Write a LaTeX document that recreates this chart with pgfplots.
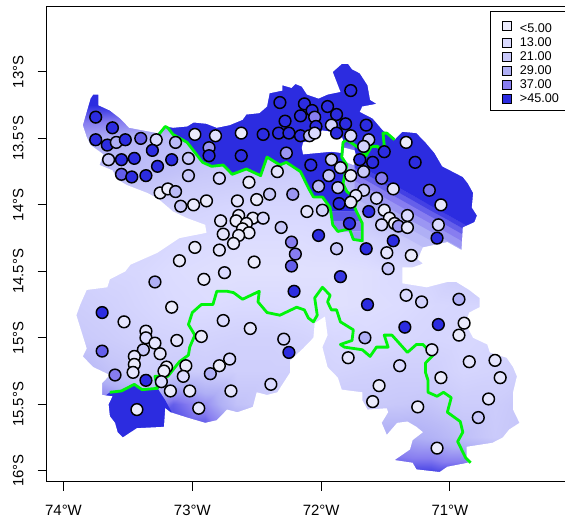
\documentclass[border=0pt]{standalone}
\usepackage{pgfplots}
\pgfplotsset{compat=1.18}
\usepackage{fontspec}
\setmainfont{Liberation Sans}
\definecolor{darkb}{RGB}{44,44,224}
\definecolor{bandA}{RGB}{90,85,232}
\definecolor{bandB}{RGB}{135,125,240}
\definecolor{bandC}{RGB}{155,150,243}
\definecolor{cA}{RGB}{235,235,252}
\definecolor{cB}{RGB}{218,218,255}
\definecolor{cC}{RGB}{200,200,250}
\definecolor{cD}{RGB}{175,175,245}
\definecolor{cE}{RGB}{135,125,240}
\definecolor{sA}{RGB}{67,64,228}
\definecolor{sB}{RGB}{101,95,234}
\definecolor{sC}{RGB}{135,125,240}
\definecolor{sD}{RGB}{155,150,243}
\definecolor{sE}{RGB}{175,175,245}
\definecolor{sF}{RGB}{188,188,248}
\definecolor{greenl}{RGB}{0,245,10}
\begin{document}
\begin{tikzpicture}
\path[use as bounding box] (-35.25pt,-28.875pt) rectangle (388.5pt,361.125pt);
\begin{axis}[
 at={(0pt,0pt)},anchor=south west,
 scale only axis,width=389.25pt,height=355.9pt,
 xmin=-74.128,xmax=-70.099,ymin=-16.081,ymax=-12.511,
 axis on top,
 axis line style={black,line width=0.75pt},
 tick style={black,line width=0.75pt},
 tick align=outside,major tick length=7pt,
 xtick pos=bottom,ytick pos=left,
 xtick={-74,-73,-72,-71},
 xticklabels={74°W,73°W,72°W,71°W},
 ytick={-16,-15.5,-15,-14.5,-14,-13.5,-13},
 yticklabels={16°S,15.5°S,15°S,14.5°S,14°S,13.5°S,13°S},
 tick label style={font=\fontsize{11.2}{13}\selectfont,black},
 xticklabel style={yshift=-7pt},
 yticklabel style={rotate=90,anchor=south,yshift=7pt},
 colormap={stn}{rgb255=(235,235,252); rgb255=(218,218,255); rgb255=(200,200,250); rgb255=(175,175,245); rgb255=(135,125,240); rgb255=(44,44,224)},
 point meta min=5,point meta max=45,
 legend cell align=left,
 legend image code/.code={\draw[#1] plot coordinates {(0.27cm,0cm)}; \path (0cm,0cm) (0.53cm,0cm);},
 legend style={at={(1.004,0.9915)},anchor=north east,draw=black,line width=0.6pt,
   font=\fontsize{9.5}{10}\selectfont,row sep=-1.6pt,inner xsep=4.5pt,inner ysep=2.5pt},
]
% interpolated surface, read by eye on a coarse grid
\addplot[surf,shader=interp,forget plot,mesh/rows=14,mesh/cols=15,point meta=explicit] table[x index=0,y index=1,meta index=2,row sep=\\]{
-73.95 -12.75 45\\-73.65 -12.75 45\\-73.4 -12.75 45\\-73.15 -12.75 45\\-72.9 -12.75 45\\-72.65 -12.75 45\\-72.4 -12.75 45\\-72.15 -12.75 45\\-71.9 -12.75 45\\-71.65 -12.75 45\\-71.4 -12.75 45\\-71.15 -12.75 45\\-70.9 -12.75 45\\-70.65 -12.75 45\\-70.4 -12.75 45\\
-73.95 -13 45\\-73.65 -13 45\\-73.4 -13 45\\-73.15 -13 45\\-72.9 -13 45\\-72.65 -13 45\\-72.4 -13 45\\-72.15 -13 45\\-71.9 -13 45\\-71.65 -13 45\\-71.4 -13 45\\-71.15 -13 45\\-70.9 -13 45\\-70.65 -13 45\\-70.4 -13 45\\
-73.95 -13.25 45\\-73.65 -13.25 45\\-73.4 -13.25 45\\-73.15 -13.25 45\\-72.9 -13.25 45\\-72.65 -13.25 45\\-72.4 -13.25 45\\-72.15 -13.25 45\\-71.9 -13.25 45\\-71.65 -13.25 45\\-71.4 -13.25 45\\-71.15 -13.25 45\\-70.9 -13.25 45\\-70.65 -13.25 45\\-70.4 -13.25 45\\
-73.95 -13.5 30\\-73.65 -13.5 29\\-73.4 -13.5 27\\-73.15 -13.5 25\\-72.9 -13.5 24\\-72.65 -13.5 24\\-72.4 -13.5 24\\-72.15 -13.5 24\\-71.9 -13.5 45\\-71.65 -13.5 45\\-71.4 -13.5 45\\-71.15 -13.5 45\\-70.9 -13.5 45\\-70.65 -13.5 45\\-70.4 -13.5 45\\
-73.95 -13.75 27\\-73.65 -13.75 24\\-73.4 -13.75 24\\-73.15 -13.75 23\\-72.9 -13.75 21\\-72.65 -13.75 20\\-72.4 -13.75 20\\-72.15 -13.75 19\\-71.9 -13.75 22\\-71.65 -13.75 35\\-71.4 -13.75 45\\-71.15 -13.75 45\\-70.9 -13.75 45\\-70.65 -13.75 45\\-70.4 -13.75 45\\
-73.95 -14 22\\-73.65 -14 20\\-73.4 -14 19\\-73.15 -14 17\\-72.9 -14 16\\-72.65 -14 15\\-72.4 -14 15\\-72.15 -14 15\\-71.9 -14 16\\-71.65 -14 23\\-71.4 -14 31\\-71.15 -14 45\\-70.9 -14 45\\-70.65 -14 45\\-70.4 -14 45\\
-73.95 -14.25 19\\-73.65 -14.25 17\\-73.4 -14.25 16\\-73.15 -14.25 14\\-72.9 -14.25 13\\-72.65 -14.25 12\\-72.4 -14.25 12\\-72.15 -14.25 12\\-71.9 -14.25 13\\-71.65 -14.25 16\\-71.4 -14.25 20\\-71.15 -14.25 24\\-70.9 -14.25 37\\-70.65 -14.25 45\\-70.4 -14.25 45\\
-73.95 -14.5 18\\-73.65 -14.5 15\\-73.4 -14.5 14\\-73.15 -14.5 12\\-72.9 -14.5 11\\-72.65 -14.5 10\\-72.4 -14.5 10\\-72.15 -14.5 10\\-71.9 -14.5 10\\-71.65 -14.5 11\\-71.4 -14.5 13\\-71.15 -14.5 16\\-70.9 -14.5 20\\-70.65 -14.5 24\\-70.4 -14.5 28\\
-73.95 -14.75 19\\-73.65 -14.75 17\\-73.4 -14.75 15\\-73.15 -14.75 13\\-72.9 -14.75 12\\-72.65 -14.75 13\\-72.4 -14.75 13\\-72.15 -14.75 12\\-71.9 -14.75 10\\-71.65 -14.75 11\\-71.4 -14.75 12\\-71.15 -14.75 14\\-70.9 -14.75 15\\-70.65 -14.75 16\\-70.4 -14.75 18\\
-73.95 -15 21\\-73.65 -15 19\\-73.4 -15 17\\-73.15 -15 16\\-72.9 -15 16\\-72.65 -15 17\\-72.4 -15 17\\-72.15 -15 16\\-71.9 -15 14\\-71.65 -15 13\\-71.4 -15 14\\-71.15 -15 15\\-70.9 -15 14\\-70.65 -15 15\\-70.4 -15 17\\
-73.95 -15.25 28\\-73.65 -15.25 23\\-73.4 -15.25 18\\-73.15 -15.25 20\\-72.9 -15.25 19\\-72.65 -15.25 18\\-72.4 -15.25 18\\-72.15 -15.25 18\\-71.9 -15.25 16\\-71.65 -15.25 17\\-71.4 -15.25 18\\-71.15 -15.25 18\\-70.9 -15.25 15\\-70.65 -15.25 16\\-70.4 -15.25 18\\
-73.95 -15.5 45\\-73.65 -15.5 38\\-73.4 -15.5 30\\-73.15 -15.5 40\\-72.9 -15.5 34\\-72.65 -15.5 23\\-72.4 -15.5 20\\-72.15 -15.5 20\\-71.9 -15.5 20\\-71.65 -15.5 20\\-71.4 -15.5 21\\-71.15 -15.5 22\\-70.9 -15.5 19\\-70.65 -15.5 19\\-70.4 -15.5 22\\
-73.95 -15.75 45\\-73.65 -15.75 45\\-73.4 -15.75 45\\-73.15 -15.75 45\\-72.9 -15.75 45\\-72.65 -15.75 38\\-72.4 -15.75 25\\-72.15 -15.75 22\\-71.9 -15.75 22\\-71.65 -15.75 30\\-71.4 -15.75 30\\-71.15 -15.75 28\\-70.9 -15.75 24\\-70.65 -15.75 20\\-70.4 -15.75 22\\
-73.95 -16.05 45\\-73.65 -16.05 45\\-73.4 -16.05 45\\-73.15 -16.05 45\\-72.9 -16.05 45\\-72.65 -16.05 45\\-72.4 -16.05 45\\-72.15 -16.05 45\\-71.9 -16.05 45\\-71.65 -16.05 45\\-71.4 -16.05 45\\-71.15 -16.05 45\\-70.9 -16.05 45\\-70.65 -16.05 45\\-70.4 -16.05 45\\
};
% north-eastern gradient bands, widest first
\addplot[fill=sF,draw=none,forget plot,mark=none] coordinates {(-71.74,-13.948)(-71.74,-14.03)(-70.62,-14.637)(-70.62,-14.554)};
\addplot[fill=sE,draw=none,forget plot,mark=none] coordinates {(-71.74,-13.88)(-71.74,-13.948)(-70.62,-14.554)(-70.62,-14.487)};
\addplot[fill=sD,draw=none,forget plot,mark=none] coordinates {(-71.74,-13.82)(-71.74,-13.88)(-70.62,-14.487)(-70.62,-14.427)};
\addplot[fill=sC,draw=none,forget plot,mark=none] coordinates {(-71.74,-13.767)(-71.74,-13.82)(-70.62,-14.427)(-70.62,-14.374)};
\addplot[fill=sB,draw=none,forget plot,mark=none] coordinates {(-71.74,-13.722)(-71.74,-13.767)(-70.62,-14.374)(-70.62,-14.329)};
\addplot[fill=sA,draw=none,forget plot,mark=none] coordinates {(-71.74,-13.685)(-71.74,-13.722)(-70.62,-14.329)(-70.62,-14.291)};
\addplot[fill=darkb,draw=none,forget plot,mark=none] coordinates {(-71.74,-13.3)(-71.74,-13.685)(-70.62,-14.291)(-70.4,-14.4)(-70.4,-13.3)};
% saturated area north of the boundary
\addplot[fill=darkb,draw=none,forget plot,mark=none] coordinates {
(-73.26,-13.47)(-73.21,-13.41)(-73.19,-13.42)(-73.15,-13.47)(-73.04,-13.53)(-72.92,-13.68)(-72.85,-13.71)(-72.76,-13.70)(-72.69,-13.77)(-72.58,-13.73)(-72.47,-13.78)(-72.42,-13.64)(-72.32,-13.70)(-72.27,-13.68)(-72.16,-13.75)(-72.10,-13.87)(-72.06,-13.94)(-71.99,-13.94)(-71.93,-14.02)(-71.93,-14.05)(-71.72,-14.05)(-71.74,-14.02)(-71.72,-13.96)(-71.80,-13.90)(-71.83,-13.84)(-71.80,-13.70)(-71.84,-13.64)(-71.83,-13.53)(-71.80,-13.51)(-71.43,-13.30)(-71.60,-12.85)(-73.26,-12.85)};
\addplot[fill=bandA,draw=none,forget plot,mark=none] coordinates {(-71.93,-14.05)(-71.72,-14.05)(-71.69,-14.12)(-71.91,-14.12)};
\addplot[fill=bandB,draw=none,forget plot,mark=none] coordinates {(-71.91,-14.12)(-71.69,-14.12)(-71.68,-14.14)(-71.68,-14.20)(-71.87,-14.20)(-71.91,-14.15)};
\addplot[fill=bandC,draw=none,forget plot,mark=none] coordinates {(-71.87,-14.20)(-71.78,-14.18)(-71.75,-14.26)(-71.68,-14.27)(-71.68,-14.20)};
% saturated area south-west
\addplot[fill=darkb,draw=none,forget plot,mark=none] coordinates {
(-73.64,-15.41)(-73.55,-15.40)(-73.45,-15.35)(-73.39,-15.39)(-73.27,-15.38)(-73.21,-15.47)(-73.16,-15.56)(-73.21,-15.77)(-73.72,-15.77)(-73.72,-15.47)};
% everything outside the region is white
\addplot[fill=white,draw=none,even odd rule,forget plot,mark=none] coordinates {
(-74.2,-12.4)(-70,-12.4)(-70,-16.2)(-74.2,-16.2)(-74.2,-13.17)
(-73.77,-13.17)(-73.73,-13.17)(-73.73,-13.25)(-73.64,-13.29)(-73.56,-13.35)(-73.49,-13.42)(-73.38,-13.44)(-73.27,-13.46)(-73.20,-13.41)(-73.15,-13.42)(-73.04,-13.41)(-72.99,-13.38)(-72.89,-13.39)(-72.81,-13.42)(-72.71,-13.40)(-72.61,-13.36)(-72.58,-13.32)(-72.48,-13.31)(-72.42,-13.26)(-72.40,-13.16)(-72.30,-13.14)(-72.30,-13.10)(-72.23,-13.12)(-72.20,-13.09)(-72.15,-13.11)(-72.11,-13.17)(-72.02,-13.20)(-71.95,-13.17)(-71.85,-13.15)(-71.89,-13.05)(-71.91,-13.00)(-71.84,-12.94)(-71.79,-12.94)(-71.76,-12.98)(-71.70,-13.01)(-71.64,-13.10)(-71.62,-13.21)(-71.57,-13.24)(-71.68,-13.26)(-71.70,-13.30)(-71.60,-13.35)(-71.52,-13.44)(-71.43,-13.51)(-71.37,-13.45)(-71.26,-13.46)(-71.19,-13.53)(-71.12,-13.61)(-71.06,-13.71)(-70.96,-13.76)(-70.90,-13.79)(-70.86,-13.84)(-70.82,-13.91)(-70.83,-14.02)(-70.79,-14.08)(-70.81,-14.13)(-70.90,-14.17)(-70.91,-14.34)(-71.02,-14.28)(-71.21,-14.32)(-71.25,-14.41)(-71.21,-14.44)(-71.23,-14.45)(-71.29,-14.47)(-71.37,-14.47)(-71.37,-14.59)(-71.18,-14.62)(-71.02,-14.58)(-70.95,-14.58)(-70.85,-14.64)(-70.77,-14.70)(-70.77,-14.77)(-70.85,-14.81)(-70.88,-14.89)(-70.82,-15.00)(-70.71,-15.05)(-70.69,-15.11)(-70.56,-15.15)(-70.51,-15.22)(-70.48,-15.29)(-70.51,-15.41)(-70.51,-15.54)(-70.46,-15.64)(-70.54,-15.69)(-70.59,-15.75)(-70.67,-15.79)(-70.87,-15.82)(-70.87,-15.90)(-70.86,-15.94)(-71.02,-15.97)(-71.08,-16.01)(-71.26,-15.99)(-71.29,-15.94)(-71.43,-15.92)(-71.31,-15.84)(-71.29,-15.77)(-71.21,-15.71)(-71.26,-15.67)(-71.33,-15.63)(-71.41,-15.64)(-71.49,-15.73)(-71.53,-15.64)(-71.48,-15.56)(-71.49,-15.53)(-71.64,-15.54)(-71.68,-15.47)(-71.68,-15.41)(-71.84,-15.39)(-71.87,-15.30)(-71.95,-15.22)(-71.99,-15.07)(-71.95,-14.98)(-71.97,-14.84)(-72.05,-14.89)(-72.06,-15.00)(-72.14,-15.08)(-72.24,-15.17)(-72.24,-15.26)(-72.34,-15.41)(-72.42,-15.43)(-72.50,-15.41)(-72.53,-15.52)(-72.65,-15.56)(-72.73,-15.54)(-72.81,-15.62)(-72.90,-15.64)(-73.04,-15.60)(-73.17,-15.56)(-73.21,-15.53)(-73.22,-15.67)(-73.43,-15.68)(-73.54,-15.75)(-73.58,-15.71)(-73.60,-15.64)(-73.64,-15.59)(-73.65,-15.50)(-73.62,-15.44)(-73.70,-15.43)(-73.70,-15.34)(-73.64,-15.28)(-73.77,-15.22)(-73.85,-15.14)(-73.82,-15.08)(-73.90,-14.83)(-73.87,-14.75)(-73.82,-14.64)(-73.66,-14.62)(-73.64,-14.56)(-73.52,-14.50)(-73.48,-14.45)(-73.27,-14.36)(-73.10,-14.25)(-72.89,-14.21)(-72.90,-14.15)(-73.04,-14.10)(-73.15,-14.05)(-73.27,-13.95)(-73.35,-13.91)(-73.51,-13.85)(-73.58,-13.81)(-73.62,-13.74)(-73.72,-13.70)(-73.69,-13.62)(-73.79,-13.55)(-73.82,-13.49)(-73.85,-13.40)(-73.82,-13.30)(-73.79,-13.20)
(-73.77,-13.17)(-74.2,-13.17)};
\addplot[fill=white,draw=none,forget plot,mark=none] coordinates {(-72.15,-13.57)(-72.14,-13.53)(-72.06,-13.51)(-71.99,-13.44)(-71.85,-13.46)(-71.83,-13.51)(-71.84,-13.61)(-71.92,-13.60)(-72.03,-13.61)(-72.14,-13.62)};
\addplot[fill=white,draw=none,forget plot,mark=none] coordinates {(-71.82,-13.57)(-71.74,-13.59)(-71.72,-13.66)(-71.75,-13.70)(-71.80,-13.68)(-71.83,-13.64)};
% boundary
\addplot[greenl,line width=2.1pt,forget plot,mark=none,line join=round] coordinates {
(-73.64,-15.41)(-73.55,-15.40)(-73.45,-15.35)(-73.39,-15.39)(-73.27,-15.38)(-73.29,-15.29)(-73.19,-15.29)(-73.10,-15.18)(-73.03,-15.13)(-73.02,-15.07)(-72.98,-14.98)(-73.03,-14.90)(-73.00,-14.81)(-72.93,-14.75)(-72.84,-14.75)(-72.81,-14.65)(-72.73,-14.65)(-72.68,-14.66)(-72.61,-14.71)(-72.48,-14.65)(-72.49,-14.73)(-72.42,-14.81)(-72.32,-14.83)(-72.19,-14.77)(-72.13,-14.79)(-72.10,-14.85)(-72.06,-14.88)(-72.03,-14.83)(-72.05,-14.70)(-71.99,-14.62)(-71.93,-14.68)(-71.95,-14.73)(-71.92,-14.79)(-71.88,-14.79)(-71.85,-14.88)(-71.75,-14.94)(-71.76,-15.02)(-71.85,-15.05)(-71.82,-15.07)(-71.68,-15.09)(-71.62,-15.14)(-71.57,-15.07)(-71.48,-15.07)(-71.51,-14.98)(-71.45,-14.98)(-71.33,-15.11)(-71.26,-15.05)(-71.21,-15.05)(-71.13,-15.13)(-71.19,-15.19)(-71.19,-15.26)(-71.17,-15.32)(-71.17,-15.41)(-71.10,-15.44)(-71.05,-15.41)(-70.99,-15.45)(-71.02,-15.56)(-70.92,-15.63)(-70.90,-15.71)(-70.94,-15.78)(-70.88,-15.90)(-70.84,-15.94)};
\addplot[greenl,line width=2.1pt,forget plot,mark=none,line join=round] coordinates {
(-73.26,-13.47)(-73.21,-13.41)(-73.19,-13.42)(-73.15,-13.47)(-73.04,-13.53)(-72.92,-13.68)(-72.85,-13.71)(-72.76,-13.70)(-72.69,-13.77)(-72.58,-13.73)(-72.47,-13.78)(-72.42,-13.64)(-72.32,-13.70)(-72.27,-13.68)(-72.16,-13.75)(-72.10,-13.87)(-72.06,-13.94)(-71.99,-13.94)(-71.93,-14.02)(-71.91,-14.15)(-71.87,-14.20)(-71.78,-14.18)(-71.75,-14.26)(-71.68,-14.27)(-71.68,-14.14)(-71.74,-14.02)(-71.72,-13.96)(-71.80,-13.90)(-71.83,-13.84)(-71.80,-13.70)(-71.84,-13.64)(-71.83,-13.53)(-71.80,-13.51)(-71.71,-13.57)(-71.65,-13.63)(-71.61,-13.56)(-71.56,-13.56)(-71.54,-13.59)(-71.51,-13.55)(-71.52,-13.46)(-71.49,-13.46)(-71.43,-13.51)};
% stations
\addplot[scatter,only marks,forget plot,mark=*,mark size=4.4pt,point meta=explicit,
  mark options={line width=1.1pt},
  scatter/use mapped color={draw=black,fill=mapped color}]
 table[x index=0,y index=1,meta index=2,row sep=\\]{
-73.75 -13.34 45\\-73.62 -13.42 45\\-73.75 -13.51 45\\-73.66 -13.55 45\\-73.59 -13.53 29\\-73.52 -13.51 45\\-73.40 -13.50 40\\-73.28 -13.51 13\\-73.31 -13.59 45\\-73.13 -13.53 25\\-72.98 -13.47 5\\-72.82 -13.48 10\\-72.62 -13.46 5\\-72.45 -13.47 45\\-72.33 -13.46 45\\-72.25 -13.46 45\\-72.32 -13.23 45\\-72.28 -13.37 45\\-72.27 -13.61 33\\-72.62 -13.63 45\\
-72.87 -13.57 33\\-72.87 -13.63 45\\-73.65 -13.66 21\\-73.55 -13.66 45\\-73.45 -13.65 45\\-73.16 -13.66 45\\-73.03 -13.65 21\\-73.27 -13.71 45\\-73.55 -13.77 40\\-73.47 -13.79 45\\-73.36 -13.78 45\\-73.03 -13.78 21\\-72.79 -13.80 13\\-72.34 -13.75 8\\-72.56 -13.83 5\\-72.22 -13.92 33\\-72.40 -13.92 21\\-72.65 -13.97 8\\-72.50 -13.96 5\\-73.25 -13.91 5\\
-73.19 -13.88 3\\-73.13 -13.90 25\\-73.09 -14.01 21\\-72.99 -14.00 5\\-72.89 -13.97 5\\-72.78 -14.12 8\\-72.64 -14.08 5\\-72.66 -14.12 5\\-72.53 -14.10 5\\-72.45 -14.10 13\\-72.58 -14.14 3\\-72.61 -14.18 3\\-72.56 -14.21 5\\-72.64 -14.23 5\\-72.76 -14.22 8\\-72.68 -14.29 5\\-72.79 -14.34 8\\-72.31 -14.17 21\\-72.23 -14.28 37\\-72.20 -14.37 37\\
-72.23 -14.46 40\\-72.52 -14.43 5\\-72.98 -14.32 5\\-73.10 -14.42 5\\-72.91 -14.56 5\\-72.75 -14.51 13\\-71.77 -13.14 45\\-72.13 -13.24 45\\-71.95 -13.26 45\\-72.07 -13.29 45\\-72.16 -13.33 45\\-72.05 -13.34 37\\-71.88 -13.32 45\\-72.04 -13.41 45\\-71.81 -13.39 45\\-71.65 -13.40 45\\-71.92 -13.40 17\\-72.16 -13.48 45\\-72.09 -13.48 25\\-72.05 -13.46 13\\
-71.88 -13.46 45\\-71.77 -13.48 13\\-71.63 -13.51 21\\-71.67 -13.56 17\\-71.51 -13.60 45\\-71.34 -13.53 5\\-71.70 -13.66 45\\-71.60 -13.68 45\\-71.27 -13.68 45\\-71.92 -13.66 17\\-72.08 -13.70 45\\-71.85 -13.72 13\\-71.94 -13.78 21\\-71.77 -13.78 5\\-71.67 -13.75 21\\-71.53 -13.80 37\\-72.02 -13.86 25\\-71.87 -13.87 17\\-71.67 -13.89 17\\-71.73 -13.93 8\\
-71.44 -13.88 8\\-71.16 -13.89 38\\-71.07 -14.00 8\\-71.57 -13.95 13\\-71.86 -13.99 45\\-71.77 -13.98 8\\-71.63 -14.05 45\\-71.51 -14.04 5\\-71.47 -14.10 5\\-71.33 -14.08 13\\-71.43 -14.14 3\\-71.53 -14.15 13\\-71.40 -14.16 33\\-71.33 -14.17 8\\-71.09 -14.15 13\\-71.10 -14.25 45\\-71.78 -14.14 45\\-72.02 -14.23 45\\-72.11 -14.05 8\\-71.99 -14.04 17\\
-71.88 -14.33 21\\-71.65 -14.33 45\\-71.44 -14.27 45\\-71.49 -14.36 8\\-71.30 -14.38 5\\-71.48 -14.48 21\\-72.21 -14.65 45\\-73.70 -14.81 45\\-73.53 -14.88 8\\-73.29 -14.58 29\\-73.16 -14.77 5\\-73.36 -14.95 8\\-73.36 -15.00 13\\-73.29 -15.04 8\\-73.38 -15.09 21\\-73.25 -15.12 8\\-73.45 -15.14 8\\-73.45 -15.20 3\\-73.46 -15.26 8\\-73.70 -15.10 40\\
-73.60 -15.28 37\\-73.36 -15.32 45\\-73.12 -15.02 8\\-72.93 -14.99 5\\-72.76 -14.87 13\\-72.55 -14.93 8\\-72.29 -15.01 17\\-72.25 -15.11 45\\-73.20 -15.22 5\\-73.22 -15.25 5\\-73.24 -15.33 13\\-73.05 -15.21 5\\-73.07 -15.29 13\\-73.17 -15.40 5\\-73.02 -15.40 5\\-72.86 -15.27 29\\-72.79 -15.21 5\\-72.71 -15.16 13\\-72.70 -15.40 8\\-72.39 -15.35 13\\
-72.95 -15.53 8\\-73.43 -15.54 5\\-71.85 -14.54 44\\-71.64 -14.75 45\\-71.34 -14.68 13\\-71.22 -14.73 17\\-70.93 -14.71 29\\-71.35 -14.92 45\\-71.09 -14.90 45\\-70.89 -14.89 5\\-70.93 -14.98 5\\-71.66 -15.00 29\\-71.14 -15.09 8\\-71.79 -15.15 8\\-71.39 -15.21 13\\-70.85 -15.18 8\\-70.65 -15.17 8\\-70.61 -15.30 8\\-71.07 -15.30 5\\-71.55 -15.36 5\\
-71.60 -15.48 5\\-71.25 -15.52 5\\-70.70 -15.46 8\\-70.78 -15.60 21\\-71.10 -15.83 5\\
};
\addlegendimage{mark=square*,mark size=3.3pt,mark options={draw=black,fill=cA,line width=0.7pt}}
\addlegendentry{\rule{0pt}{11.3pt}<5.00}
\addlegendimage{mark=square*,mark size=3.3pt,mark options={draw=black,fill=cB,line width=0.7pt}}
\addlegendentry{13.00}
\addlegendimage{mark=square*,mark size=3.3pt,mark options={draw=black,fill=cC,line width=0.7pt}}
\addlegendentry{21.00}
\addlegendimage{mark=square*,mark size=3.3pt,mark options={draw=black,fill=cD,line width=0.7pt}}
\addlegendentry{29.00}
\addlegendimage{mark=square*,mark size=3.3pt,mark options={draw=black,fill=cE,line width=0.7pt}}
\addlegendentry{37.00}
\addlegendimage{mark=square*,mark size=3.3pt,mark options={draw=black,fill=darkb,line width=0.7pt}}
\addlegendentry{>45.00\hspace{1.5pt}}
\end{axis}
\end{tikzpicture}
\end{document}
